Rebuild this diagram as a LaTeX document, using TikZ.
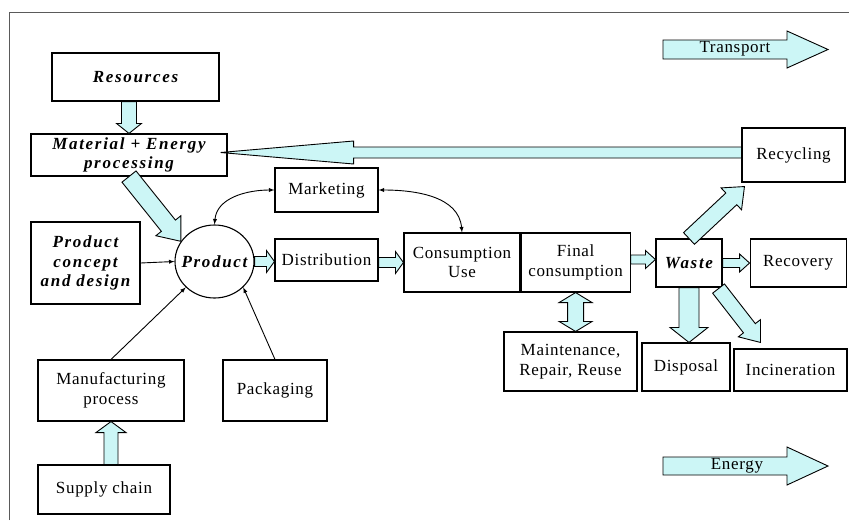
\documentclass[tikz,border=0pt]{standalone}
\usepackage{fontspec}
\setmainfont{Liberation Serif}[LetterSpace=4,BoldItalicFeatures={LetterSpace=10}]
\usetikzlibrary{shapes, arrows.meta, positioning, calc}
\definecolor{flowfill}{RGB}{204,246,246}
\definecolor{framegray}{RGB}{90,90,90}
\newcommand{\diagfont}{\fontsize{17}{19.5}\selectfont}

\tikzset{
  box/.style={draw, line width=1.1pt, text centered, align=center, inner sep=2pt},
  keybox/.style={box, font=\diagfont\bfseries\itshape},
  fat/.style={draw, line width=0.9pt, fill=flowfill, line join=miter},
  thinarrow/.style={-latex, line width=0.9pt},
}

% hollow block arrow: tail, tip, shaft half width, head half width, head length
\newcommand{\fatarrow}[5]{%
  \coordinate (fh) at ($(#2)!#5!(#1)$);
  \filldraw[fat] ($(#1)!#3!90:(#2)$) -- ($(fh)!#3!-90:(#1)$) -- ($(fh)!#4!-90:(#1)$) -- (#2)
    -- ($(fh)!#4!90:(#1)$) -- ($(fh)!#3!90:(#1)$) -- ($(#1)!#3!-90:(#2)$) -- cycle;}
% same with a head at both ends
\newcommand{\fatdarrow}[5]{%
  \coordinate (fa) at ($(#1)!#5!(#2)$);
  \coordinate (fb) at ($(#2)!#5!(#1)$);
  \filldraw[fat] (#1) -- ($(fa)!#4!90:(#2)$) -- ($(fa)!#3!90:(#2)$) -- ($(fb)!#3!-90:(#1)$)
    -- ($(fb)!#4!-90:(#1)$) -- (#2) -- ($(fb)!#4!90:(#1)$) -- ($(fb)!#3!90:(#1)$)
    -- ($(fa)!#3!-90:(#2)$) -- ($(fa)!#4!-90:(#2)$) -- cycle;}

\begin{document}
\begin{tikzpicture}[x=1pt,y=-1pt,font=\diagfont]
\useasboundingbox (0,0) rectangle (849,520);

% frame
\draw[framegray, line width=1pt] (9,520) -- (9,12) -- (849,12);

% Resources and processing
\node[keybox,
    minimum width=167pt,
    minimum height=48pt] (resources) at (135.5,77) {Resources};

\node[keybox,
    minimum width=196pt,
    minimum height=42pt] (material) at (129,155) {Material + Energy\\processing};

\node[box,
    minimum width=103pt,
    minimum height=54pt] (recycling) at (793.5,155) {Recycling};

\node[box,
    minimum width=103pt,
    minimum height=44pt] (marketing) at (326.5,190) {Marketing};

% Main row
\node[keybox,
    minimum width=109pt,
    minimum height=82pt] (concept) at (85.5,263) {Product\\concept\\and design};

\node[draw, ellipse,
    line width=1.1pt,
    minimum width=79pt,
    minimum height=73pt,
    label={[font=\diagfont\bfseries\itshape]center:Product}] (product) at (214.5,261.5) {};

\node[box,
    minimum width=103pt,
    minimum height=42pt] (distribution) at (326.5,260) {Distribution};

\node[box,
    minimum width=116pt,
    minimum height=59pt] (consumption) at (462,262.5) {Consumption\\Use};

\node[box,
    right=0pt of consumption,
    minimum width=109pt,
    minimum height=59pt] (final) {Final\\consumption};

\node[keybox,
    minimum width=66pt,
    minimum height=48pt] (waste) at (689,263) {Waste};

\node[box,
    right=27pt of waste,
    minimum width=96pt,
    minimum height=48pt] (recovery) {Recovery};

% Lower boxes
\node[box,
    minimum width=133pt,
    minimum height=59pt] (maintenance) at (570.5,361.5) {Maintenance,\\Repair, Reuse};

\node[box,
    minimum width=88pt,
    minimum height=48pt] (disposal) at (686,367) {Disposal};

\node[box,
    minimum width=113pt,
    minimum height=42pt] (incineration) at (790.5,370) {Incineration};

\node[box,
    minimum width=146pt,
    minimum height=61pt] (manufacturing) at (111,390.5) {Manufacturing\\process};

\node[box,
    minimum width=104pt,
    minimum height=61pt] (packaging) at (275,390.5) {Packaging};

\node[box,
    minimum width=132pt,
    minimum height=49pt] (supply) at (104,489.5) {Supply chain};

% Legend arrows
\coordinate (tr-tail) at (663,49.5);
\coordinate (tr-tip) at (828,49.5);
\fatarrow{tr-tail}{tr-tip}{9.5pt}{18.5pt}{41pt}
\node (transport) at (735,49) {Transport};

\coordinate (en-tail) at (663,466);
\coordinate (en-tip) at (828,466);
\fatarrow{en-tail}{en-tip}{9pt}{19pt}{41pt}
\node (energy) at (737,466) {Energy};

% Block arrows
\coordinate (res-out) at (material.north |- resources.south);
\fatarrow{res-out}{material.north}{7.5pt}{12.5pt}{10pt}
\fatarrow{material.south}{product.149}{9pt}{16pt}{20pt}

\coordinate (rc-out) at ($(recycling.west)+(0,-2.5)$);
\coordinate (me-in) at ($(material.east)+(-7,-2.5)$);
\fatarrow{rc-out}{me-in}{5.5pt}{11.5pt}{133pt}

\coordinate (di-in) at (product.east -| distribution.west);
\fatarrow{product.east}{di-in}{5pt}{11pt}{8pt}
\coordinate (di-out) at (distribution.east |- consumption.west);
\fatarrow{di-out}{consumption.west}{5pt}{11pt}{8pt}
\coordinate (fi-out) at ($(final.east)+(0,-3)$);
\coordinate (wa-in) at (fi-out -| waste.west);
\fatarrow{fi-out}{wa-in}{4.5pt}{9pt}{10pt}
\fatarrow{waste.east}{recovery.west}{4.5pt}{9pt}{10pt}

\coordinate (rc-in) at ($(recycling.south west)+(3,4)$);
\fatarrow{waste.north}{rc-in}{8pt}{15pt}{18pt}
\coordinate (dp-in) at (waste.south |- disposal.north);
\fatarrow{waste.south}{dp-in}{10pt}{19pt}{15pt}
\coordinate (wa-out) at ($(waste.south east)+(-4,1)$);
\coordinate (in-in) at ($(incineration.north west)+(27,-6)$);
\fatarrow{wa-out}{in-in}{7.5pt}{14pt}{18pt}

\coordinate (ma-in) at (final.south |- maintenance.north);
\fatdarrow{final.south}{ma-in}{8pt}{16.5pt}{10pt}

\coordinate (su-out) at (manufacturing.south |- supply.north);
\fatarrow{su-out}{manufacturing.south}{7pt}{15pt}{11pt}

% Thin arrows
\draw[thinarrow] (concept.east) -- (product.west);
\draw[thinarrow] (manufacturing.north) -- (product.222);
\draw[thinarrow] (packaging.north) -- (product.318);
\draw[latex-latex, line width=0.9pt] (marketing.west) to[out=180, in=85] (product.north);
\draw[latex-latex, line width=0.9pt] (marketing.east) to[out=0, in=95] (consumption.north);
\end{tikzpicture}
\end{document}
